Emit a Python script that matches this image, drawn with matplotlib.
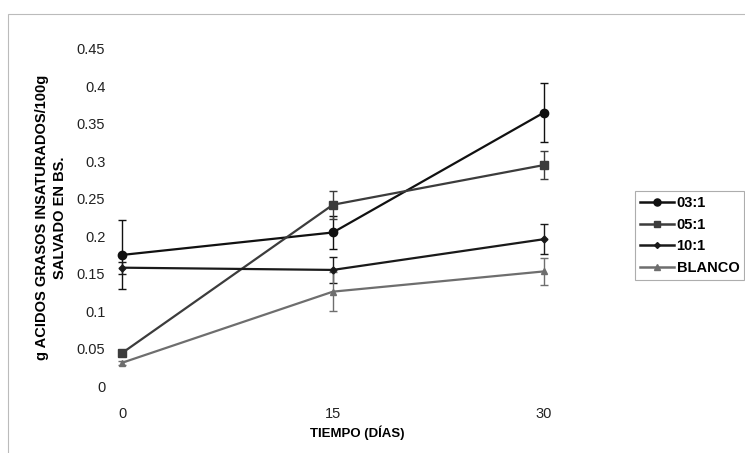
import matplotlib
matplotlib.use("Agg")
import matplotlib.pyplot as plt
from matplotlib.patches import Rectangle
from matplotlib.lines import Line2D

plt.rcParams['font.family'] = ['Liberation Sans', 'DejaVu Sans']

dias = [0, 15, 30]
r03 = [0.175, 0.205, 0.365]
e03 = [0.046, 0.022, 0.039]
r05 = [0.044, 0.242, 0.295]
e05 = [0.004, 0.019, 0.019]
r10 = [0.158, 0.155, 0.196]
e10 = [0.008, 0.017, 0.020]
blanco = [0.031, 0.126, 0.153]
eb = [0.003, 0.026, 0.018]
labels = ['03:1', '05:1', '10:1', 'BLANCO']
yticks = [0, 0.05, 0.1, 0.15, 0.2, 0.25, 0.3, 0.35, 0.4, 0.45]
yticklabels = ['0', '0.05', '0.1', '0.15', '0.2', '0.25', '0.3', '0.35', '0.4', '0.45']

fig = plt.figure(figsize=(7.45, 4.53), dpi=100)
ax = fig.add_axes([115/745, (453-386)/453, 485/745, 337/453])

series = [
    (r03, e03, '#111111', 'o', 6),
    (r05, e05, '#3c3c3c', 's', 5.5),
    (r10, e10, '#1a1a1a', 'D', 3.5),
    (blanco, eb, '#6e6e6e', '^', 5),
]
handles = []
for (vals, errs, col, mk, ms), lab in zip(series, labels):
    ax.errorbar(dias, vals, yerr=errs, color=col, marker=mk, markersize=ms,
                linewidth=1.6, elinewidth=1.0, capsize=3, capthick=1.0)
    handles.append(Line2D([], [], color=col, marker=mk, markersize=ms * 0.85,
                          linewidth=1.8, label=lab))

ax.set_xlim(-0.5, 34)
ax.set_ylim(0, 0.45)
ax.set_xticks(dias)
ax.set_xticklabels([str(d) for d in dias])
ax.set_yticks(yticks)
ax.set_yticklabels(yticklabels)
for s in ax.spines.values():
    s.set_visible(False)
ax.tick_params(axis='both', length=0, labelsize=10.5, colors='#222222')
ax.tick_params(axis='x', pad=15)
ax.tick_params(axis='y', pad=7)

ax.set_xlabel('TIEMPO (DÍAS)', fontsize=9.5, fontweight='bold', labelpad=3)
ax.set_ylabel('g ACIDOS GRASOS INSATURADOS/100g\nSALVADO EN BS.', fontsize=10.5,
              fontweight='bold', labelpad=7, linespacing=1.4)

leg = fig.legend(handles=handles, loc='upper left',
                 bbox_to_anchor=(635/745, 1-191/453),
                 fancybox=False, frameon=True,
                 prop={'weight': 'bold', 'size': 10.5}, borderpad=0.35,
                 handlelength=2.3, handletextpad=0.2, labelspacing=0.52,
                 borderaxespad=0)
leg.get_frame().set_edgecolor('#999999')
leg.get_frame().set_linewidth(0.8)

fig.patches.append(Rectangle((8/745, -0.1), 1.2, 1.1 - 14/453, transform=fig.transFigure,
                             fill=False, edgecolor='#bbbbbb', linewidth=0.8))

fig.savefig('out.png', dpi=100)
